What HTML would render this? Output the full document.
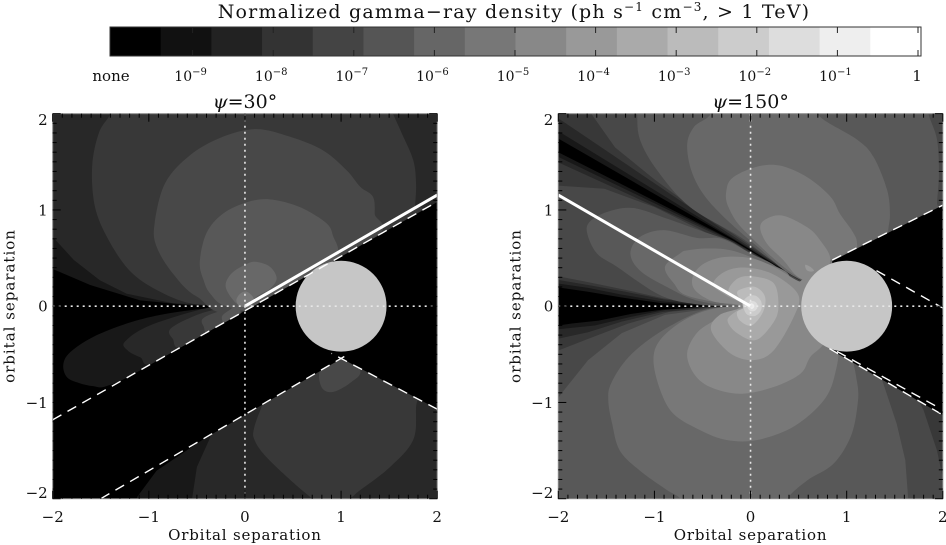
<!DOCTYPE html>
<html>
<head>
<meta charset="utf-8">
<title>Normalized gamma-ray density</title>
<style>
html,body{margin:0;padding:0;background:#fff;}
svg{display:block;}
text{font-family:"DejaVu Serif","Liberation Serif",serif;fill:#111;}
</style>
</head>
<body>
<svg id="figure" xmlns="http://www.w3.org/2000/svg" width="946" height="545" viewBox="0 0 946 545">
<g id="colorbar"></g>
<text x="514" y="18" text-anchor="middle" font-size="19" letter-spacing="1.2">Normalized gamma−ray density (ph s<tspan font-size="12" dy="-7">−1</tspan><tspan dy="7"> cm</tspan><tspan font-size="12" dy="-7">−3</tspan><tspan dy="7">, &gt; 1 TeV)</tspan></text>
<g id="panel-left"></g>
<g id="panel-right"></g>
</svg>
<script>
/* ---------- colorbar data ---------- */
const colorbarGrays = [0,17,34,51,68,85,102,119,136,153,170,187,204,221,238,255];
const colorbarLabels = ["none","-9","-8","-7","-6","-5","-4","-3","-2","-1","1"];
/* contour fills as they appear in the panels */
const panelGrays = [0,24,40,56,72,88,104,120,136,153,170,187,204,221,238,255];

/* ---------- axis data ---------- */
const axisTicks = [-2,-1,0,1,2];
const axisTickLabels = ["−2","−1","0","1","2"];

/* ---------- psi = 30 panel: contour outlines in orbital separation units ---------- */
const a30Level1 = [[-2.1,.43],[-1.61,.22],[-1.09,.06],[-.57,.01],[-.05,0],[2.2,0],[2.2,2.2],[-2.1,2.2]];
const a30Level2 = [[-2.1,.76],[-2,.72],[-1.78,.48],[-1.51,.27],[-1.23,.13],[-.75,.03],[-.16,0],[2.2,0],[2.2,2.2],[-2.1,2.2]];
const a30Level3 = [[-1.35,2.2],[-1.40,2],[-1.52,1.8],[-1.59,1.45],[-1.56,1.03],[-1.42,.69],[-1.20,.37],[-.92,.17],[-.57,.03],[-.16,0],[0,-.05],[1.75,.9],[1.77,1.05],[1.78,1.28],[1.75,1.52],[1.63,1.8],[1.54,2],[1.45,2.2]];
const a30Level4 = [[-.94,.86],[-.83,1.28],[-.57,1.57],[-.23,1.76],[.12,1.84],[.47,1.76],[.81,1.62],[1.06,1.41],[1.2,1.24],[1.33,1.14],[1.35,.96],[1.33,.69],[-.05,-.04],[-.5,.10],[-.75,.34],[-.92,.62]];
const a30Level5 = [[-.47,.46],[-.40,.76],[-.23,.96],[.02,1.08],[.26,1.11],[.57,1.03],[.85,.86],[.92,.72],[.97,.58],[.92,.41],[.29,-.04],[-.19,0],[-.36,.13],[-.43,.27]];
const a30Level6 = [[-.20,.20],[-.14,.34],[.02,.44],[.12,.46],[.26,.41],[.33,.29],[.26,.18],[.12,.10],[.02,0],[-.09,.03]];
const a30Level7 = [[-.09,.06],[-.05,.13],[.02,.15],[.09,.08],[.05,0],[-.05,0]];
const a30Lobe1 = [[-.09,-.005],[-.47,-.03],[-.88,-.09],[-1.23,-.18],[-1.58,-.32],[-1.82,-.48],[-1.89,-.61],[-1.85,-.74],[-1.72,-.8],[-1.58,-.83],[-1.44,-.83],[-1.09,-.67],[-.05,-.08]];
const a30Lobe2 = [[-1.25,-.37],[-.99,-.2],[-.4,-.02],[-.09,0],[-.05,-.08],[-.92,-.58],[-1.09,-.53],[-1.22,-.46]];
const a30Lobe3 = [[-.77,-.23],[-.47,-.08],[-.19,-.02],[-.05,-.08],[-.64,-.42],[-.75,-.34]];
const a30Lobe4 = [[-.44,-.13],[-.29,-.06],[-.09,-.02],[-.05,-.08],[-.36,-.30],[-.43,-.21]];
const a30Lobe5 = [[-.24,-.11],[-.16,-.04],[-.09,0],[-.05,-.08],[-.19,-.2]];
const a30Lower1 = [[-1.18,-2.2],[-1.12,-1.98],[-.92,-1.71],[-.40,-1.36],[-.3,-1.1],[1,-.4],[2.2,-1],[2.2,-2.2]];
const a30Lower2 = [[-.56,-2.2],[-.55,-2],[-.50,-1.67],[-.36,-1.36],[-.3,-1.1],[1,-.4],[2.2,-1],[2.2,-2.2]];
const a30Lower3 = [[.10,-1.39],[.09,-1.29],[.16,-1.08],[.3,-.8],[1,-.4],[1.78,-.7],[1.78,-1.05],[1.75,-1.39],[1.51,-1.67],[1.2,-1.91],[1.06,-2],[.74,-2],[.64,-1.95],[.40,-1.74],[.19,-1.53]];
const a30Lower4 = [[.77,-.73],[.81,-.63],[1,-.46],[1.2,-.67],[1.09,-.80],[.92,-.89],[.81,-.86]];

/* ---------- psi = 30 wedges, lines, star ---------- */
const a30UpperWedge = [[-2.1,-1.239],[2.1,1.139],[2.1,2.1],[-2.1,2.1]];
const a30LowerWedge = [[-1.6,-2.06],[1.005,-.545],[2.1,-1.12],[2.1,-2.1],[-1.6,-2.1]];
const a30Dashed = [[[-2,-1.18],[2,1.085]],[[-1.5,-2],[1.09,-.49]],[[2,-1.07],[.9,-.49]]];
const a30Solid = [[0,0],[2,1.155]];

/* ---------- psi = 150 panel: contour outlines in orbital separation units ---------- */
const b150Top1 = [[.55,.25],[-.18,.695],[-2.1,1.80],[-2.1,2.2],[2.2,2.2],[2.2,.2]];
const b150Top2 = [[.55,.25],[-.18,.705],[-2.1,1.88],[-2.1,2.2],[2.2,2.2],[2.2,.2]];
const b150Top3 = [[.55,.25],[-.18,.725],[-2.1,2.02],[-2.1,2.2],[2.2,2.2],[2.2,.2]];
const b150Top4 = [[.55,.25],[-.18,.75],[-.47,.93],[-.99,1.31],[-1.41,1.65],[-1.65,1.99],[-1.72,2.2],[2.2,2.2],[2.2,.2]];
const b150Top5 = [[-1.18,2.2],[-1.18,2],[-1.15,1.73],[-.97,1.41],[-.63,1.03],[-.11,.72],[.2,.49],[.56,.26],[.9,.3],[1.94,.9],[1.94,1.07],[1.96,1.38],[1.94,1.73],[1.85,2],[1.82,2.2]];
const b150Top6 = [[-.66,1.66],[-.59,1.86],[-.42,1.99],[-.38,2.2],[.59,2.2],[.72,1.97],[1.11,1.73],[1.28,1.55],[1.42,1.21],[1.45,.96],[1.43,.76],[1.38,.2],[.55,.27],[.07,.62],[-.38,1.03],[-.59,1.34]];
const b150Top7 = [[-.25,1.21],[-.18,1.34],[.07,1.45],[.31,1.46],[.59,1.34],[.83,1.14],[.93,.96],[1.07,.76],[1.11,.62],[1.1,.2],[.55,.27],[-.04,.76],[-.23,1.03]];
const b150Top8 = [[.10,.82],[.17,.91],[.34,.94],[.59,.82],[.72,.69],[.83,.48],[.7,.25],[.50,.30],[.34,.48],[.17,.65]];
const b150Blob = [[.57,.43],[.62,.41],[.66,.37],[.62,.36],[.58,.38]];
const b150Left1 = [[.55,.25],[-.18,.68],[-2.1,1.65],[-2.1,.21],[-1.69,.15],[-1.34,.09],[-.92,.03],[-.4,.005],[0,0]];
const b150Left2 = [[.55,.25],[-.18,.675],[-2.1,1.60],[-2.1,.25],[-1.69,.19],[-1.34,.12],[-.92,.05],[-.45,.01],[0,0]];
const b150Left3 = [[.55,.25],[-.18,.665],[-2.1,1.54],[-2.1,.29],[-1.69,.22],[-1.3,.15],[-.9,.07],[-.4,.015],[0,0]];
const b150Left4 = [[.55,.25],[.2,.43],[-.18,.645],[-.47,.77],[-1.0,1.03],[-1.52,1.22],[-2.1,1.26],[-2.1,.33],[-1.69,.25],[-1.3,.17],[-.9,.08],[-.4,.02],[0,0]];
const b150Left5 = [[-1.70,.76],[-1.67,.88],[-1.49,.98],[-1.22,1.02],[-.87,.91],[-.45,.76],[-.2,.67],[.07,.50],[.4,.32],[.2,.1],[-.14,0],[-.63,.03],[-.97,.13],[-1.39,.41],[-1.6,.55]];
const b150Left6 = [[-1.25,.55],[-1.15,.72],[-.90,.79],[-.56,.71],[-.3,.70],[0,.55],[.3,.37],[.2,.1],[0,0],[-.52,.05],[-.87,.20],[-1.15,.37]];
const b150Left7 = [[-.89,.41],[-.73,.55],[-.66,.58],[-.45,.60],[-.2,.58],[.1,.47],[.4,.32],[.2,.1],[0,0],[-.63,.10],[-.80,.24]];
const b150Low1 = [[0,0],[-.4,-.005],[-.92,-.035],[-1.24,-.08],[-1.58,-.15],[-1.86,-.18],[-2,-.2],[-2.1,-.21],[-2.1,-2.2],[2.2,-2.2],[2.2,0]];
const b150Low2 = [[0,0],[-.47,-.004],[-.89,-.04],[-1.24,-.11],[-1.62,-.2],[-2.1,-.25],[-2.1,-2.2],[2.2,-2.2],[2.2,0]];
const b150Low3 = [[0,0],[-.4,-.01],[-.92,-.06],[-1.34,-.16],[-1.69,-.27],[-2.1,-.36],[-2.1,-2.2],[2.2,-2.2],[2.2,0]];
const b150Low4 = [[0,0],[-.37,-.01],[-.85,-.06],[-1.27,-.18],[-1.69,-.34],[-2.1,-.5],[-2.1,-2.2],[2.2,-2.2],[2.1,-1.9],[1.99,-1.74],[1.94,-1.5],[1.80,-1.08],[1.4,-.3],[.8,0]];
const b150Low5 = [[0,0],[-.3,-.01],[-.89,-.09],[-1.34,-.28],[-1.69,-.56],[-1.97,-.91],[-2.1,-1.1],[-2.1,-2.2],[1.65,-2.2],[1.64,-2],[1.61,-1.6],[1.52,-1.22],[1.38,-.80],[1.2,-.3],[.8,0]];
const b150Low6 = [[0,0],[-.23,-.005],[-.54,-.06],[-.96,-.28],[-1.27,-.53],[-1.45,-.8],[-1.48,-.98],[-1.44,-1.22],[-1.36,-1.5],[-1.15,-1.71],[-.87,-1.91],[-.73,-2],[-.6,-2.2],[.3,-2.2],[.38,-2],[.59,-1.81],[.86,-1.64],[1.04,-1.36],[1.11,-1.05],[1.11,-.80],[1,-.39],[.7,0]];
const b150Low7 = [[0,0],[-.4,-.03],[-.70,-.15],[-.94,-.35],[-1.01,-.56],[-.94,-.87],[-.80,-1.12],[-.52,-1.29],[-.25,-1.39],[.07,-1.39],[.45,-1.25],[.76,-.98],[.88,-.70],[.9,-.39],[.7,0]];
const b150Core8 = [[.53,.27],[.48,.27],[.24,.41],[0,.50],[-.28,.51],[-.49,.44],[-.6,.31],[-.58,.17],[-.39,.05],[-.11,0],[-.38,-.15],[-.56,-.28],[-.66,-.49],[-.59,-.70],[-.42,-.84],[-.11,-.91],[.24,-.84],[.52,-.70],[.62,-.53],[.8,-.3],[.8,.3],[.75,.4],[.6,.33]];
const b150Core9 = [[-.39,.22],[-.30,.34],[-.13,.40],[.10,.38],[.31,.29],[.50,.11],[.45,-.11],[.24,-.46],[.03,-.56],[-.21,-.49],[-.41,-.25],[-.32,-.09],[-.07,0],[-.25,.11]];
const b150Core10 = [[-.23,.17],[-.13,.29],[.03,.31],[.24,.24],[.29,.03],[.25,-.15],[.06,-.35],[-.14,-.28],[-.24,-.15],[-.16,-.06],[-.06,0],[-.16,.10]];
const b150Core11 = [[-.14,.13],[-.09,.18],[.05,.2],[.15,.1],[.13,-.06],[.01,-.2],[-.11,-.15],[-.14,-.06],[-.06,0]];
const b150Core12 = [[-.08,.04],[-.03,.1],[.05,.11],[.11,.05],[.11,-.04],[.05,-.1],[-.03,-.09],[-.07,-.03]];
const b150Core13 = [[-.03,.02],[0,.05],[.04,.05],[.07,.02],[.07,-.02],[.04,-.05],[0,-.05],[-.03,-.02]];
const b150Core14 = [[-.01,.01],[.01,.03],[.03,.02],[.04,0],[.03,-.02],[.01,-.03],[-.01,-.01]];

/* ---------- psi = 150 wedge, lines ---------- */
const b150ShadowWedge = [[.85,.47],[2.1,1.1],[2.1,-1.19],[.85,-.46]];
const b150Dashed = [[[.85,.48],[2,1.05]],[[1.31,.37],[2.02,-.03]],[[.82,-.44],[2,-1.13]],[[.9,-.47],[1.95,-1.05]]];
const b150Solid = [[0,0],[-2,1.155]];

/* ---------- primary star / companion ---------- */
const starCenter = [1,0];
const starRadius = [0.473];

const SVGNS = "http://www.w3.org/2000/svg";
function mk(tag, attrs, parent){
  const el = document.createElementNS(SVGNS, tag);
  for (const k in attrs) el.setAttribute(k, attrs[k]);
  parent.appendChild(el);
  return el;
}

/* colorbar */
(function(){
  const g = document.getElementById('colorbar');
  const x0 = 110, x1 = 921, y0 = 27, y1 = 56;
  const w = (x1-x0)/colorbarGrays.length;
  colorbarGrays.forEach(function(v,i){
    const r = mk('rect',{x:x0+i*w,y:y0,width:w+0.5,height:y1-y0,fill:'rgb('+v+','+v+','+v+')'},g);
    
    
  });
  const fr = mk('rect',{x:x0,y:y0,width:x1-x0,height:y1-y0,fill:'none',stroke:'#333','stroke-width':1},g);
  
  
  const step = (918-112)/(colorbarLabels.length-1);
  colorbarLabels.forEach(function(lab,i){
    const cx = 112+i*step;
    if(i>0){
      const t1 = mk('line',{x1:cx,x2:cx,y1:y0,y2:y0+6,stroke:'#222','stroke-width':1},g);
      
      
      const t2 = mk('line',{x1:cx,x2:cx,y1:y1-6,y2:y1,stroke:'#222','stroke-width':1},g);
      
      
    }
    const isPlain = (lab==='none'||lab==='1');
    const tx = mk('text',{x:cx-(isPlain?1:2),y:81,'text-anchor':'middle','font-size':isPlain?15:14},g);
    
    
    if(isPlain){ tx.textContent = lab; }
    else{
      tx.textContent = '10';
      const sup = mk('tspan',{'font-size':10,dy:-6},tx);
      sup.textContent = lab.replace('-','−');
    }
  });
})();

/* panels */
function drawPanel(cfg){
  const g = document.getElementById(cfg.groupId);
  const L = cfg.left, R = cfg.left+384.5, T = 113.7, B = 498.7;
  const sx = function(x){ return L+(x+2)*(R-L)/4; };
  const sy = function(y){ return B-(y+2)*(B-T)/4; };
  const clipId = cfg.groupId+'-clip';
  const defs = mk('defs',{},g);
  const cp = mk('clipPath',{id:clipId},defs);
  mk('rect',{x:L,y:T,width:R-L,height:B-T},cp);
  (cfg.wedges||[]).forEach(function(w,i){
    const c = mk('clipPath',{id:cfg.groupId+'-wedge'+i},defs);
    mk('path',{d:linePath(w,sx,sy)},c);
  });
  const plot = mk('g',{'clip-path':'url(#'+clipId+')'},g);
  
  
  const bg = mk('rect',{x:L,y:T,width:R-L,height:B-T,fill:'#000'},plot);
  
  
  cfg.regions.slice().sort(function(a,b){return a.level-b.level;}).forEach(function(r){
    const v = panelGrays[r.level];
    const attrs = {d:r.smooth?smoothPath(r.pts,sx,sy):linePath(r.pts,sx,sy),fill:'rgb('+v+','+v+','+v+')'};
    if(r.wedge!==undefined) attrs['clip-path'] = 'url(#'+cfg.groupId+'-wedge'+r.wedge+')';
    const p = mk('path',attrs,plot);
    
    
  });
  if(cfg.shadow){
    const s = mk('path',{d:linePath(cfg.shadow,sx,sy),fill:'#000'},plot);
    
    
  }
  const star = mk('circle',{cx:sx(starCenter[0]),cy:sy(starCenter[1]),r:starRadius[0]*(R-L)/4,fill:'#c6c6c6'},plot);
  
  
  cfg.dashed.forEach(function(d){
    const l = mk('line',{x1:sx(d[0][0]),y1:sy(d[0][1]),x2:sx(d[1][0]),y2:sy(d[1][1]),stroke:'#fff','stroke-width':1.4,'stroke-dasharray':'10 7'},plot);
    
    
  });
  const sol = mk('line',{x1:sx(cfg.solid[0][0]),y1:sy(cfg.solid[0][1]),x2:sx(cfg.solid[1][0]),y2:sy(cfg.solid[1][1]),stroke:'#fff','stroke-width':3},plot);
  
  
  const dh = mk('line',{x1:L,x2:R,y1:sy(0),y2:sy(0),stroke:'#e8e8e8','stroke-width':1.6,'stroke-dasharray':'2 4'},plot);
  
  
  const dv = mk('line',{x1:sx(0),x2:sx(0),y1:T,y2:B,stroke:'#e8e8e8','stroke-width':1.6,'stroke-dasharray':'2 4'},plot);
  
  

  /* frame and ticks */
  const fr = mk('rect',{x:L,y:T,width:R-L,height:B-T,fill:'none',stroke:'#888','stroke-width':1},g);
  
  
  for(let i=-20;i<=20;i++){
    const v = i/10;
    const len = (i%10===0)?8:4;
    [[sx(v),T,sx(v),T+len],[sx(v),B,sx(v),B-len],[L,sy(v),L+len,sy(v)],[R,sy(v),R-len,sy(v)]].forEach(function(c){
      const t = mk('line',{x1:c[0],y1:c[1],x2:c[2],y2:c[3],stroke:'#000','stroke-width':1},g);
      
      
    });
  }
  axisTicks.forEach(function(v,i){
    const xl = mk('text',{x:sx(v),y:522,'text-anchor':'middle','font-size':15},g);
    
    
    xl.textContent = axisTickLabels[i];
    const yc = Math.min(Math.max(sy(v),T+6),B-6);
    const yl = mk('text',{x:L-5,y:yc+5.5,'text-anchor':'end','font-size':15},g);
    
    
    yl.textContent = axisTickLabels[i];
  });
  const xt = mk('text',{x:(L+R)/2,y:540,'text-anchor':'middle','font-size':15,'letter-spacing':0.8},g);
  
  
  xt.textContent = 'Orbital separation';
  const ytx = L-38;
  const yt = mk('text',{x:ytx,y:306,'text-anchor':'middle','font-size':15,'letter-spacing':1,transform:'rotate(-90 '+ytx+' 306)'},g);
  
  
  yt.textContent = 'orbital separation';
  const ti = mk('text',{x:(L+R)/2,y:108,'text-anchor':'middle','font-size':19},g);
  
  
  const psi = mk('tspan',{'font-style':'italic'},ti);
  psi.textContent = 'ψ';
  const rest = mk('tspan',{},ti);
  rest.textContent = '='+cfg.angle+'°';
}
function linePath(pts,sx,sy){
  return pts.map(function(p,i){return (i?'L':'M')+sx(p[0]).toFixed(2)+' '+sy(p[1]).toFixed(2);}).join('')+'Z';
}
function smoothPath(pts,sx,sy){
  const n = pts.length;
  const P = pts.map(function(p){return [sx(p[0]),sy(p[1])];});
  let d = 'M'+P[0][0].toFixed(2)+' '+P[0][1].toFixed(2);
  for(let i=0;i<n;i++){
    const p0=P[(i-1+n)%n],p1=P[i],p2=P[(i+1)%n],p3=P[(i+2)%n];
    const c1=[p1[0]+(p2[0]-p0[0])/6,p1[1]+(p2[1]-p0[1])/6];
    const c2=[p2[0]-(p3[0]-p1[0])/6,p2[1]-(p3[1]-p1[1])/6];
    d+='C'+c1[0].toFixed(2)+' '+c1[1].toFixed(2)+' '+c2[0].toFixed(2)+' '+c2[1].toFixed(2)+' '+p2[0].toFixed(2)+' '+p2[1].toFixed(2);
  }
  return d+'Z';
}

drawPanel({
  groupId:'panel-left', left:52.7, angle:'30',
  wedges:[a30UpperWedge,a30LowerWedge],
  regions:[
    {level:1,pts:a30Level1,smooth:false,wedge:0},
    {level:2,pts:a30Level2,smooth:false,wedge:0},
    {level:3,pts:a30Level3,smooth:true,wedge:0},
    {level:4,pts:a30Level4,smooth:true,wedge:0},
    {level:5,pts:a30Level5,smooth:true,wedge:0},
    {level:6,pts:a30Level6,smooth:true,wedge:0},
    {level:7,pts:a30Level7,smooth:true,wedge:0},
    {level:1,pts:a30Lobe1,smooth:true,wedge:0},
    {level:2,pts:a30Lobe2,smooth:true,wedge:0},
    {level:3,pts:a30Lobe3,smooth:true,wedge:0},
    {level:4,pts:a30Lobe4,smooth:true,wedge:0},
    {level:5,pts:a30Lobe5,smooth:true,wedge:0},
    {level:1,pts:a30Lower1,smooth:false,wedge:1},
    {level:2,pts:a30Lower2,smooth:false,wedge:1},
    {level:3,pts:a30Lower3,smooth:true,wedge:1},
    {level:4,pts:a30Lower4,smooth:true,wedge:1}
  ],
  dashed:a30Dashed, solid:a30Solid
});

drawPanel({
  groupId:'panel-right', left:558.3, angle:'150',
  regions:[
    {level:1,pts:b150Top1},{level:2,pts:b150Top2},{level:3,pts:b150Top3},{level:4,pts:b150Top4},
    {level:5,pts:b150Top5,smooth:true},{level:6,pts:b150Top6,smooth:true},{level:7,pts:b150Top7,smooth:true},{level:8,pts:b150Top8,smooth:true},{level:9,pts:b150Blob,smooth:true},
    {level:1,pts:b150Left1},{level:2,pts:b150Left2},{level:3,pts:b150Left3},{level:4,pts:b150Left4},
    {level:5,pts:b150Left5,smooth:true},{level:6,pts:b150Left6,smooth:true},{level:7,pts:b150Left7,smooth:true},
    {level:1,pts:b150Low1},{level:2,pts:b150Low2},{level:3,pts:b150Low3},{level:4,pts:b150Low4},
    {level:5,pts:b150Low5},{level:6,pts:b150Low6,smooth:true},{level:7,pts:b150Low7,smooth:true},
    {level:8,pts:b150Core8,smooth:true},{level:9,pts:b150Core9,smooth:true},{level:10,pts:b150Core10,smooth:true},
    {level:11,pts:b150Core11,smooth:true},{level:12,pts:b150Core12,smooth:true},{level:13,pts:b150Core13,smooth:true},{level:14,pts:b150Core14,smooth:true}
  ],
  shadow:b150ShadowWedge, dashed:b150Dashed, solid:b150Solid
});
</script>
</body>
</html>
